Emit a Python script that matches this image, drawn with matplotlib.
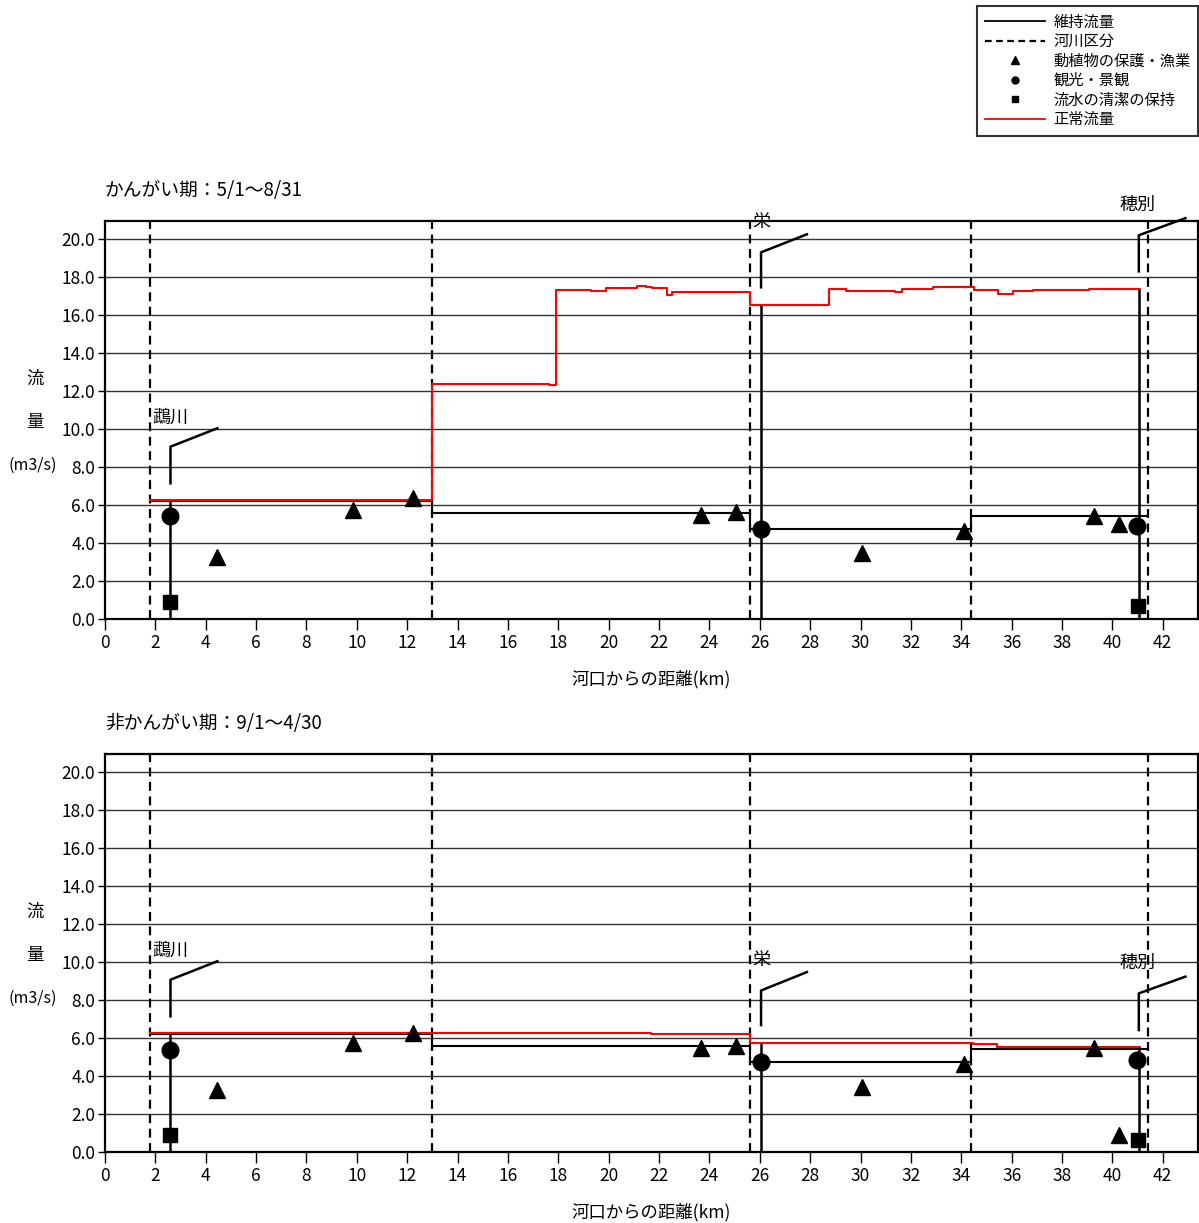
import matplotlib
matplotlib.use("Agg")
import matplotlib.pyplot as plt
from matplotlib.lines import Line2D

plt.rcParams['font.family'] = ['Noto Sans CJK JP', 'DejaVu Sans']

# ---------------- data ----------------
section_bounds = [1.8, 13.0, 25.6, 34.4, 41.4]          # 河川区分 (km)
maint_flow = [6.2, 5.6, 4.75, 5.4]                      # 維持流量 per section

# 正常流量 (irrigation period)
top_normal_x = [1.8, 13.0, 17.63, 17.9, 19.31, 19.9, 21.12, 21.5, 21.7, 22.31, 22.52,
                25.6, 28.74, 29.43, 31.35, 31.64, 32.87, 34.52, 35.45, 36.04, 36.84,
                38.16, 39.06, 41.05]
top_normal_q = [6.26, 12.38, 12.3, 17.3, 17.25, 17.4, 17.54, 17.5, 17.4, 17.07, 17.2,
                16.53, 17.35, 17.28, 17.2, 17.39, 17.47, 17.33, 17.09, 17.26, 17.33,
                17.3, 17.39]
# 正常流量 (non-irrigation period)
bot_normal_x = [1.8, 21.69, 25.6, 34.48, 35.4, 41.0]
bot_normal_q = [6.28, 6.19, 5.74, 5.68, 5.51]

tri_x = [4.43, 9.83, 12.24, 23.65, 25.04, 30.05, 34.09, 39.29, 40.28]
tri_top = [3.28, 5.74, 6.35, 5.47, 5.65, 3.5, 4.65, 5.42, 5.0]
tri_bot = [3.26, 5.72, 6.28, 5.46, 5.58, 3.44, 4.63, 5.46, 0.89]

circ_x = [2.6, 26.05, 40.98]
circ_top = [5.42, 4.74, 4.89]
circ_bot = [5.37, 4.75, 4.84]

sq_x = [2.6, 41.0]
sq_top = [0.9, 0.68]
sq_bot = [0.89, 0.63]

trib_names = ['鵡川', '栄', '穂別']
trib_x = [2.6, 26.05, 41.05]
trib_end_x = [4.46, 27.87, 42.9]
# top chart tributary symbol: low, high, end y, label position
top_trib_low = [7.14, 17.46, 18.3]
top_trib_high = [9.07, 19.3, 20.2]
top_trib_end = [10.04, 20.25, 21.1]
top_trib_main = [6.26, 16.53, 17.39]
top_label_x = [1.9, 25.7, 40.3]
top_label_y = [10.6, 20.9, 21.8]
bot_trib_low = [7.14, 6.68, 6.42]
bot_trib_high = [9.07, 8.5, 8.35]
bot_trib_end = [10.04, 9.47, 9.23]
bot_trib_main = [6.28, 5.74, 5.51]
bot_label_x = [1.9, 25.7, 40.3]
bot_label_y = [10.6, 10.1, 9.93]

x_ticks = list(range(0, 43, 2))
y_ticks = [0, 2, 4, 6, 8, 10, 12, 14, 16, 18, 20]

titles = ['かんがい期：5/1～8/31', '非かんがい期：9/1～4/30']

# ---------------- figure ----------------
fig = plt.figure(figsize=(11.99, 12.23), dpi=100)
ax_top = fig.add_axes([105/1199, 1-619/1223, 1093/1199, 398/1223])
ax_bot = fig.add_axes([105/1199, 1-1152/1223, 1093/1199, 398/1223])

panels = [
    (ax_top, top_normal_x, top_normal_q, tri_top, circ_top, sq_top,
     top_trib_low, top_trib_high, top_trib_end, top_trib_main, top_label_x, top_label_y, titles[0]),
    (ax_bot, bot_normal_x, bot_normal_q, tri_bot, circ_bot, sq_bot,
     bot_trib_low, bot_trib_high, bot_trib_end, bot_trib_main, bot_label_x, bot_label_y, titles[1]),
]

for (ax, nx, nq, tq, cq, sq, tlow, thigh, tend, tmain, lx, ly, title) in panels:
    ax.set_xlim(0, 43.4)
    ax.set_ylim(0, 20.95)
    ax.set_xticks(x_ticks)
    ax.set_yticks(y_ticks)
    ax.set_yticklabels([f'{v:.1f}' for v in y_ticks])
    ax.tick_params(axis='x', direction='out', length=8, width=1, labelsize=12.5, pad=3)
    ax.tick_params(axis='y', direction='out', length=5, width=1, labelsize=12.5, pad=2)
    for s in ax.spines.values():
        s.set_linewidth(1.6)
        s.set_color('black')
    for y in y_ticks:
        ax.axhline(y, color='#333333', lw=1.0, zorder=1)

    # 河川区分
    for b in section_bounds:
        ax.axvline(b, color='black', lw=1.6, linestyle=(0, (4, 2.5)), zorder=2)

    # 維持流量
    ax.step(section_bounds, maint_flow + [maint_flow[-1]], where='post',
            color='black', lw=1.5, zorder=3)

    # tributary main verticals
    for xv, top in zip(trib_x, tmain):
        ax.plot([xv, xv], [0, top], color='black', lw=1.8, zorder=3)

    # 正常流量
    ax.step(nx, nq + [nq[-1]], where='post', color='red', lw=1.5, zorder=4)

    # markers
    ax.plot(tri_x, tq, '^', color='black', ms=11, zorder=5, clip_on=False)
    ax.plot(circ_x, cq, 'o', color='black', ms=12, zorder=5)
    ax.plot(sq_x, sq, 's', color='black', ms=10, zorder=5)

    # tributary symbols
    for name, xv, xe, lo, hi, en, tx, ty in zip(trib_names, trib_x, trib_end_x,
                                                tlow, thigh, tend, lx, ly):
        ax.plot([xv, xv, xe], [lo, hi, en], color='black', lw=1.8, zorder=3, clip_on=False)
        ax.text(tx, ty, name, fontsize=13, ha='left', va='center', zorder=6, clip_on=False)

    ax.set_xlabel('河口からの距離(km)', fontsize=12.5, labelpad=13)
    ax.text(-0.064, 0.603, '流', transform=ax.transAxes, fontsize=12.5, ha='center', va='center')
    ax.text(-0.064, 0.495, '量', transform=ax.transAxes, fontsize=12.5, ha='center', va='center')
    ax.text(-0.066, 0.385, '(m3/s)', transform=ax.transAxes, fontsize=11.5, ha='center', va='center')
    ax.text(0.0, 1.0 + 31/398, title, transform=ax.transAxes, fontsize=13.5, ha='left', va='center')

# legend
handles = [
    Line2D([], [], color='black', lw=1.3),
    Line2D([], [], color='black', lw=1.6, linestyle=(0, (3, 2))),
    Line2D([], [], color='black', marker='^', ls='none', ms=6),
    Line2D([], [], color='black', marker='o', ls='none', ms=5),
    Line2D([], [], color='black', marker='s', ls='none', ms=5),
    Line2D([], [], color='red', lw=1.3),
]
labels = ['維持流量', '河川区分', '動植物の保護・漁業', '観光・景観', '流水の清潔の保持', '正常流量']
leg = fig.legend(handles, labels, loc='upper right', bbox_to_anchor=(1198/1199, 1-6/1223),
                 fontsize=11, frameon=True, fancybox=False, edgecolor='black',
                 handlelength=3.9, handletextpad=0.55, labelspacing=0.16,
                 borderpad=0.5, borderaxespad=0)
leg.get_frame().set_linewidth(1.5)

fig.savefig('out.png', dpi=100)
